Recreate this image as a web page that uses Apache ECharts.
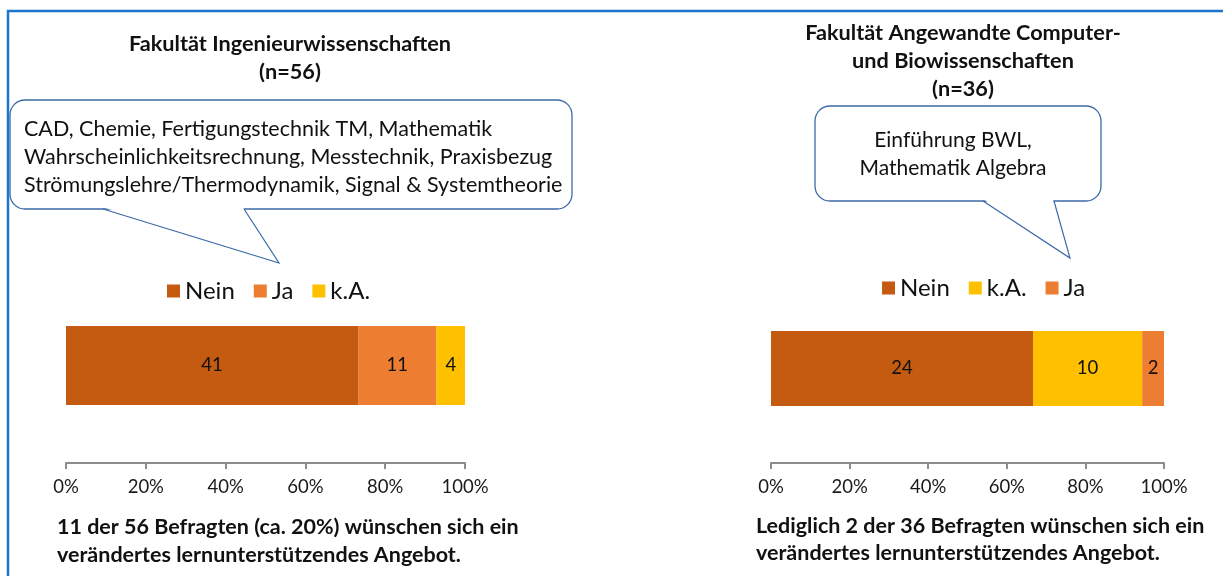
<!doctype html>
<html lang="de">
<head>
<meta charset="utf-8">
<title>Lernunterstützendes Angebot</title>
<script src="https://cdn.jsdelivr.net/npm/echarts@6/dist/echarts.min.js"></script>
<style>
  html, body { margin: 0; height: 100%; background: #fff; }
  #chart { width: 1223px; height: 576px; }
</style>
</head>
<body>
<div id="chart"></div>
<script>
// Daten
const ingNames = ['Nein', 'Ja', 'k.A.'];
const ingCounts = [41, 11, 4];
const bioNames = ['Nein', 'k.A.', 'Ja'];
const bioCounts = [24, 10, 2];
const colors = { 'Nein': '#C55A11', 'Ja': '#ED7D31', 'k.A.': '#FFC000' };

const FONT = 'Lato, "Open Sans", sans-serif';
const BUBBLE = '#3b69a8';

function makeSeries(names, counts, idx) {
  const total = counts.reduce((a, b) => a + b, 0);
  return names.map((n, i) => ({
    name: n,
    type: 'bar',
    stack: 'g' + idx,
    xAxisIndex: idx,
    yAxisIndex: idx,
    barWidth: idx === 0 ? 79 : 75,
    itemStyle: { color: colors[n] },
    label: {
      show: true,
      position: 'inside',
      color: '#111',
      fontFamily: FONT,
      fontSize: 18.5,
      formatter: () => String(counts[i])
    },
    data: [counts[i] / total * 100]
  }));
}

function xAxis(idx) {
  return {
    type: 'value', gridIndex: idx, min: 0, max: 100, interval: 20,
    splitLine: { show: false },
    axisLine: { show: true, lineStyle: { color: '#8c8c8c', width: 2 } },
    axisTick: { show: true, length: 6, lineStyle: { color: '#8c8c8c', width: 2 } },
    axisLabel: { formatter: '{value}%', color: '#1a1a1a', fontFamily: FONT, fontSize: 18.5, margin: 15 }
  };
}

function text(x, y, str, opts) {
  return {
    type: 'text', x: x, y: y,
    style: Object.assign({
      text: str, fill: '#111', textAlign: 'center', textVerticalAlign: 'middle',
      font: 'bold 21.7px ' + FONT
    }, opts || {})
  };
}

// Sprechblase: abgerundetes Rechteck + Spitze
function bubble(x0, y0, x1, y1, b0, b1, tip) {
  return [
    { type: 'rect', shape: { x: x0, y: y0, width: x1 - x0, height: y1 - y0, r: 15 },
      style: { fill: '#fff', stroke: BUBBLE, lineWidth: 1.3 } },
    { type: 'polygon', shape: { points: [[b0 + 1, y1 - 1.5], [b1 - 1, y1 - 1.5], tip] },
      style: { fill: '#fff', stroke: null } },
    { type: 'polyline', shape: { points: [[b0, y1], tip, [b1, y1]] },
      style: { fill: null, stroke: BUBBLE, lineWidth: 1.2 } }
  ];
}

const legendText = { fontFamily: FONT, fontSize: 24, color: '#111' };

const chart = echarts.init(document.getElementById('chart'));
chart.setOption({
  animation: false,
  legend: [
    {
      data: ingNames, left: 162, top: 274, itemWidth: 13, itemHeight: 13, itemGap: 19,
      icon: 'rect', textStyle: legendText
    },
    {
      data: bioNames, left: 877, top: 271, itemWidth: 13, itemHeight: 13, itemGap: 19,
      icon: 'rect', textStyle: legendText
    }
  ],
  grid: [
    { left: 66, width: 399, top: 268, height: 195 },
    { left: 771, width: 393, top: 274, height: 189 }
  ],
  xAxis: [xAxis(0), xAxis(1)],
  yAxis: [
    { type: 'category', gridIndex: 0, data: ['Ing'], show: false },
    { type: 'category', gridIndex: 1, data: ['Bio'], show: false }
  ],
  series: makeSeries(ingNames, ingCounts, 0).concat(makeSeries(bioNames, bioCounts, 1)),
  graphic: [
    // Rahmen
    { type: 'polyline', shape: { points: [[8, 576], [8, 11], [1223, 11]] },
      style: { stroke: '#1b75cc', lineWidth: 2.5, fill: null } },
    // Titel
    text(290, 44, 'Fakultät Ingenieurwissenschaften'),
    text(290, 72, '(n=56)'),
    text(963, 33, 'Fakultät Angewandte Computer-'),
    text(963, 61, 'und Biowissenschaften'),
    text(963, 89, '(n=36)')
  ].concat(
    bubble(10, 100, 572, 209, 103, 244, [279, 263]),
    [
      text(24, 157,
        'CAD, Chemie, Fertigungstechnik TM, Mathematik\n' +
        'Wahrscheinlichkeitsrechnung, Messtechnik, Praxisbezug\n' +
        'Strömungslehre/Thermodynamik, Signal & Systemtheorie',
        { textAlign: 'left', font: '21.5px ' + FONT, lineHeight: 28 })
    ],
    bubble(815, 106, 1101, 201, 983, 1054, [1070, 258]),
    [
      text(953, 154, 'Einführung BWL,\nMathematik Algebra', { font: '21px ' + FONT, lineHeight: 28 }),
      // Fazit
      text(57, 541, '11 der 56 Befragten (ca. 20%) wünschen sich ein\nverändertes lernunterstützendes Angebot.',
        { textAlign: 'left', font: 'bold 21.5px ' + FONT, lineHeight: 28 }),
      text(756, 540, 'Lediglich 2 der 36 Befragten wünschen sich ein\nverändertes lernunterstützendes Angebot.',
        { textAlign: 'left', font: 'bold 21.5px ' + FONT, lineHeight: 27 })
    ]
  )
});
</script>
</body>
</html>
